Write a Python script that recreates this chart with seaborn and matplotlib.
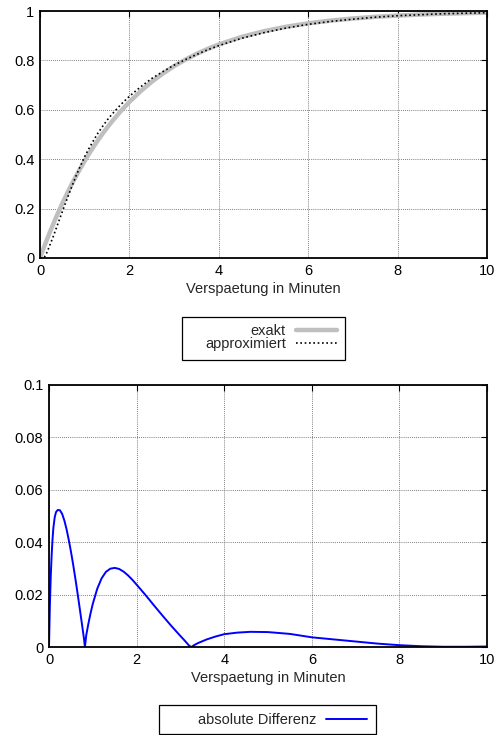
import pandas as pd
import matplotlib
matplotlib.use("Agg")
import matplotlib.pyplot as plt
from matplotlib.patches import Rectangle
import seaborn as sns

# Data
x_min = [0, 0.05, 0.1, 0.15, 0.2, 0.25, 0.3, 0.4, 0.5, 0.6, 0.7, 0.8, 0.9, 1.0,
         1.1, 1.2, 1.3, 1.4, 1.5, 1.6, 1.8, 2.0, 2.25, 2.5, 2.75, 3.0, 3.25,
         3.5, 3.75, 4.0, 4.5, 5.0, 5.5, 6.0, 6.5, 7.0, 7.5, 8.0, 8.5, 9.0,
         9.5, 10.0]
exakt = [0, 0.0247, 0.0488, 0.0723, 0.0952, 0.1175, 0.1393, 0.1813, 0.2212,
         0.2592, 0.2953, 0.3297, 0.3624, 0.3935, 0.4231, 0.4512, 0.4780,
         0.5034, 0.5276, 0.5507, 0.5934, 0.6321, 0.6753, 0.7135, 0.7472,
         0.7769, 0.8031, 0.8262, 0.8466, 0.8647, 0.8946, 0.9179, 0.9361,
         0.9502, 0.9612, 0.9698, 0.9765, 0.9817, 0.9857, 0.9889, 0.9913, 0.9933]
approximiert = [0, 0.0, 0.004, 0.021, 0.043, 0.066, 0.089, 0.139, 0.188, 0.237,
                0.284, 0.330, 0.371, 0.411, 0.445, 0.477, 0.507, 0.533, 0.558,
                0.580, 0.620, 0.655, 0.693, 0.727, 0.755, 0.781, 0.803, 0.824,
                0.843, 0.860, 0.889, 0.912, 0.931, 0.946, 0.958, 0.967, 0.975,
                0.981, 0.985, 0.989, 0.991, 0.993]

x_diff = [0, 0.02, 0.04, 0.06, 0.08, 0.1, 0.13, 0.16, 0.2, 0.25, 0.3, 0.35,
          0.4, 0.45, 0.5, 0.55, 0.6, 0.65, 0.7, 0.75, 0.8, 0.82, 0.85, 0.9,
          0.95, 1.0, 1.1, 1.2, 1.3, 1.4, 1.5, 1.6, 1.7, 1.8, 1.9, 2.0, 2.2,
          2.4, 2.6, 2.8, 3.0, 3.1, 3.2, 3.25, 3.3, 3.4, 3.6, 3.8, 4.0, 4.3,
          4.6, 5.0, 5.5, 6.0, 6.5, 7.0, 7.5, 8.0, 8.5, 9.0, 9.5, 10.0]
differenz = [0, 0.016, 0.027, 0.035, 0.041, 0.0455, 0.0495, 0.0515, 0.0523,
             0.0522, 0.0508, 0.0483, 0.0450, 0.0410, 0.0365, 0.0316, 0.0263,
             0.0207, 0.0149, 0.0090, 0.0030, 0.0, 0.0045, 0.0090, 0.0130,
             0.0165, 0.0222, 0.0262, 0.0287, 0.0299, 0.0302, 0.0298, 0.0288,
             0.0274, 0.0257, 0.0238, 0.0199, 0.0158, 0.0118, 0.0079, 0.0042,
             0.0024, 0.0005, 0.0, 0.0006, 0.0015, 0.0029, 0.0040, 0.0049,
             0.0055, 0.0058, 0.0057, 0.0050, 0.0037, 0.0029, 0.0021, 0.0013,
             0.0007, 0.0003, 0.0001, 0.0001, 0.0002]

x_ticks = [0, 2, 4, 6, 8, 10]
y_ticks_top = [0, 0.2, 0.4, 0.6, 0.8, 1]
y_labels_top = ["0", "0.2", "0.4", "0.6", "0.8", "1"]
y_ticks_bottom = [0, 0.02, 0.04, 0.06, 0.08, 0.1]
y_labels_bottom = ["0", "0.02", "0.04", "0.06", "0.08", "0.1"]

df = pd.DataFrame({"x": x_min, "exakt": exakt, "approx": approximiert})
df_diff = pd.DataFrame({"x": x_diff, "diff": differenz})

sns.set_style("white")
plt.rcParams["font.family"] = ["Liberation Sans", "DejaVu Sans"]
plt.rcParams["font.size"] = 10.5

fig = plt.figure(figsize=(4.99, 7.35), dpi=100)
ax1 = fig.add_axes([0.0802, 0.649, 0.896, 0.336])
ax2 = fig.add_axes([0.0982, 0.1197, 0.878, 0.3565])


def style_axes(ax, yticks, ylabels, ymax):
    ax.set_xlim(0, 10)
    ax.set_ylim(0, ymax)
    ax.set_xticks(x_ticks)
    ax.set_xticklabels([str(t) for t in x_ticks])
    ax.set_yticks(yticks)
    ax.set_yticklabels(ylabels)
    ax.grid(True, color="#555555", linestyle=(0, (1, 1.5)), linewidth=0.6)
    ax.tick_params(direction="in", top=True, right=True, length=4,
                   width=0.8, colors="black", labelsize=10.5, pad=4)
    for s in ax.spines.values():
        s.set_linewidth(1.3)
        s.set_color("black")
    ax.set_xlabel("Verspaetung in Minuten", fontsize=10.5, labelpad=3)
    ax.set_ylabel("")


# top panel
sns.lineplot(data=df, x="x", y="exakt", ax=ax1, color="#bfbfbf",
             linewidth=3.2, label="exakt", legend=False)
sns.lineplot(data=df, x="x", y="approx", ax=ax1, color="black",
             linewidth=1.2, linestyle=(0, (1, 1.6)), label="approximiert",
             legend=False)
style_axes(ax1, y_ticks_top, y_labels_top, 1)

# bottom panel
sns.lineplot(data=df_diff, x="x", y="diff", ax=ax2, color="#0000ff",
             linewidth=1.4, label="absolute Differenz", legend=False)
style_axes(ax2, y_ticks_bottom, y_labels_bottom, 0.1)

# gnuplot style keys: right aligned text, sample on the right, plain box
h1, l1 = ax1.get_legend_handles_labels()
fig.legend(h1, l1, loc="center right", bbox_to_anchor=(0.6754, 0.5408),
           markerfirst=False, frameon=False, handlelength=2.8,
           handletextpad=0.7, labelspacing=-0.1, borderpad=0,
           borderaxespad=0, fontsize=10.5)
fig.patches.append(Rectangle((0.3647, 0.5102), 0.3267, 0.0585, fill=False,
                             edgecolor="black", linewidth=0.9,
                             transform=fig.transFigure, figure=fig))

h2, l2 = ax2.get_legend_handles_labels()
fig.legend(h2, l2, loc="center right", bbox_to_anchor=(0.7355, 0.0204),
           markerfirst=False, frameon=False, handlelength=2.8,
           handletextpad=0.7, borderpad=0, borderaxespad=0, fontsize=10.5)
fig.patches.append(Rectangle((0.3186, 0.0014), 0.4349, 0.0395, fill=False,
                             edgecolor="black", linewidth=0.9,
                             transform=fig.transFigure, figure=fig))

fig.savefig("out.png", dpi=100)
